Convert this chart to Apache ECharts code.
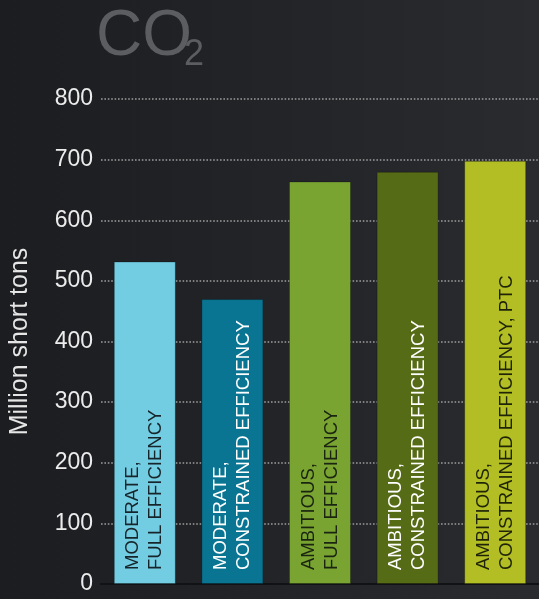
<!DOCTYPE html>
<html>
<head>
<meta charset="utf-8">
<script src="https://cdn.jsdelivr.net/npm/echarts@6/dist/echarts.min.js"></script>
<style>
    html, body { margin: 0; padding: 0; background: #222327; }
    #chart { width: 539px; height: 599px; }
</style>
</head>
<body>
<div id="chart"></div>
<script>
// scenario names, two lines each (printed inside the bars)
const scenarios = [
    'MODERATE,\nFULL EFFICIENCY',
    'MODERATE,\nCONSTRAINED EFFICIENCY',
    'AMBITIOUS,\nFULL EFFICIENCY',
    'AMBITIOUS,\nCONSTRAINED EFFICIENCY',
    'AMBITIOUS,\nCONSTRAINED EFFICIENCY, PTC'
]
const co2Values = [532, 470, 664, 680, 698]
const barColors = ['#72cde2', '#0a7592', '#79a432', '#566b16', '#b2be23']
const labelColors = ['#17252b', '#ffffff', '#1a2410', '#ffffff', '#1f2408']
const yTicks = { min: 0, max: 800, interval: 100 }

const narrow = "'Liberation Sans Narrow', 'Arial Narrow', 'Liberation Sans', sans-serif"
const plain = "'Liberation Sans', Arial, sans-serif"

const chart = echarts.init(document.getElementById('chart'))

const option = {
    backgroundColor: {
        type: 'linear', x: 0, y: 0, x2: 1, y2: 0,
        colorStops: [
            { offset: 0, color: '#1c1d20' },
            { offset: 1, color: '#2a2b2f' }
        ]
    },
    animation: false,
    graphic: [
        {
            type: 'text', left: 96, top: 5,
            style: { text: 'CO', fill: '#5c5d60', font: '64px ' + plain }
        },
        {
            type: 'text', left: 184, top: 37,
            style: { text: '2', fill: '#5c5d60', font: '36px ' + plain }
        }
    ],
    grid: { left: 99, right: 0, top: 99, bottom: 15 },
    xAxis: {
        type: 'category',
        data: scenarios,
        axisLabel: { show: false },
        axisTick: { show: false },
        axisLine: { lineStyle: { color: '#111214', width: 2 } }
    },
    yAxis: {
        type: 'value',
        min: yTicks.min,
        max: yTicks.max,
        interval: yTicks.interval,
        name: 'Million short tons',
        nameLocation: 'middle',
        nameGap: 68,
        nameTextStyle: { color: '#e6e6e6', fontSize: 25, fontFamily: plain },
        axisLabel: { color: '#ececec', fontSize: 23, fontFamily: plain, margin: 8 },
        axisLine: { show: false },
        axisTick: { show: false },
        splitLine: {
            lineStyle: { color: '#9c9c9c', type: [1.6, 1.8], width: 1.5 }
        }
    },
    series: [{
        type: 'bar',
        barWidth: 62,
        data: co2Values.map((v, i) => ({
            value: v,
            itemStyle: { color: barColors[i], borderColor: 'rgba(0,0,0,0.25)', borderWidth: 1 },
            label: { color: labelColors[i] }
        })),
        label: {
            show: true,
            position: 'insideBottom',
            rotate: 90,
            align: 'left',
            verticalAlign: 'middle',
            distance: 14,
            fontSize: 18.5,
            lineHeight: 23,
            fontFamily: narrow,
            formatter: p => p.name
        }
    }]
}

chart.setOption(option)
</script>
</body>
</html>
